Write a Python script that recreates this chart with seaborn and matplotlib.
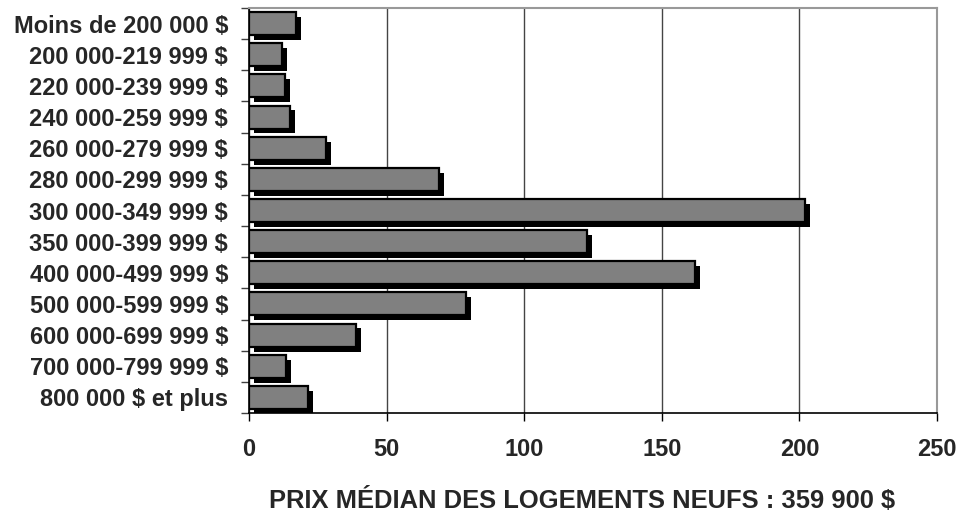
import numpy as np
import pandas as pd
import seaborn as sns
import matplotlib.pyplot as plt
import matplotlib.patheffects as pe

# données
tranches = ["Moins de 200 000 $", "200 000-219 999 $", "220 000-239 999 $",
            "240 000-259 999 $", "260 000-279 999 $", "280 000-299 999 $",
            "300 000-349 999 $", "350 000-399 999 $", "400 000-499 999 $",
            "500 000-599 999 $", "600 000-699 999 $", "700 000-799 999 $",
            "800 000 $ et plus"]
logements = [17, 12, 13, 15, 28, 69, 202, 123, 162, 79, 39, 13.5, 21.5]
xticks = [0, 50, 100, 150, 200, 250]
titre_x = "PRIX MÉDIAN DES LOGEMENTS NEUFS : 359 900 $"

df = pd.DataFrame({"tranche": tranches, "n": logements})

sns.set_style("white")
plt.rcParams['font.family'] = ['Liberation Sans', 'DejaVu Sans']
plt.rcParams['font.weight'] = 'bold'

fig = plt.figure(figsize=(9.61, 5.12), dpi=100)
ax = fig.add_axes([249 / 961, 1 - 413 / 512, (937 - 249) / 961, (413 - 8) / 512])

sns.barplot(data=df, x="n", y="tranche", orient="h", color="#808080",
            saturation=1, edgecolor="black", linewidth=1.6, width=0.74, ax=ax)

# ombre portée noire
for p in ax.patches:
    p.set_path_effects([pe.SimplePatchShadow(offset=(3.5, -3.5), shadow_rgbFace="black", alpha=1),
                        pe.Normal()])
    p.set_zorder(3)

ax.set_xlim(0, 250)
ax.set_ylim(len(tranches) - 0.5, -0.5)
ax.set_xticks(xticks)
ax.set_xticklabels([str(t) for t in xticks], fontsize=17, fontweight="bold")
ax.tick_params(axis="x", direction="out", length=6, width=1, color="black", pad=12, bottom=True)

# graduations y entre les catégories, étiquettes au centre
ax.set_yticks(np.arange(-0.5, len(tranches), 1))
ax.set_yticklabels([])
ax.set_yticks(np.arange(len(tranches)), minor=True)
ax.set_yticklabels(tranches, minor=True, fontsize=17, fontweight="bold")
ax.tick_params(axis="y", which="major", direction="out", length=6, width=1, color="#404040", left=True)
ax.tick_params(axis="y", which="minor", length=0, pad=15)

ax.set_xlabel("")
ax.set_ylabel("")
ax.xaxis.grid(True, color="#444444", linewidth=1)
ax.set_axisbelow(True)

for s in ["left", "bottom"]:
    ax.spines[s].set_color("black")
    ax.spines[s].set_linewidth(1.2)
for s in ["top", "right"]:
    ax.spines[s].set_color("#999999")
    ax.spines[s].set_linewidth(1.5)

fig.text(582 / 961, 1 - 508 / 512, titre_x, ha="center", va="baseline",
         fontsize=18.4, fontweight="bold")

fig.savefig("out.png", dpi=100)
